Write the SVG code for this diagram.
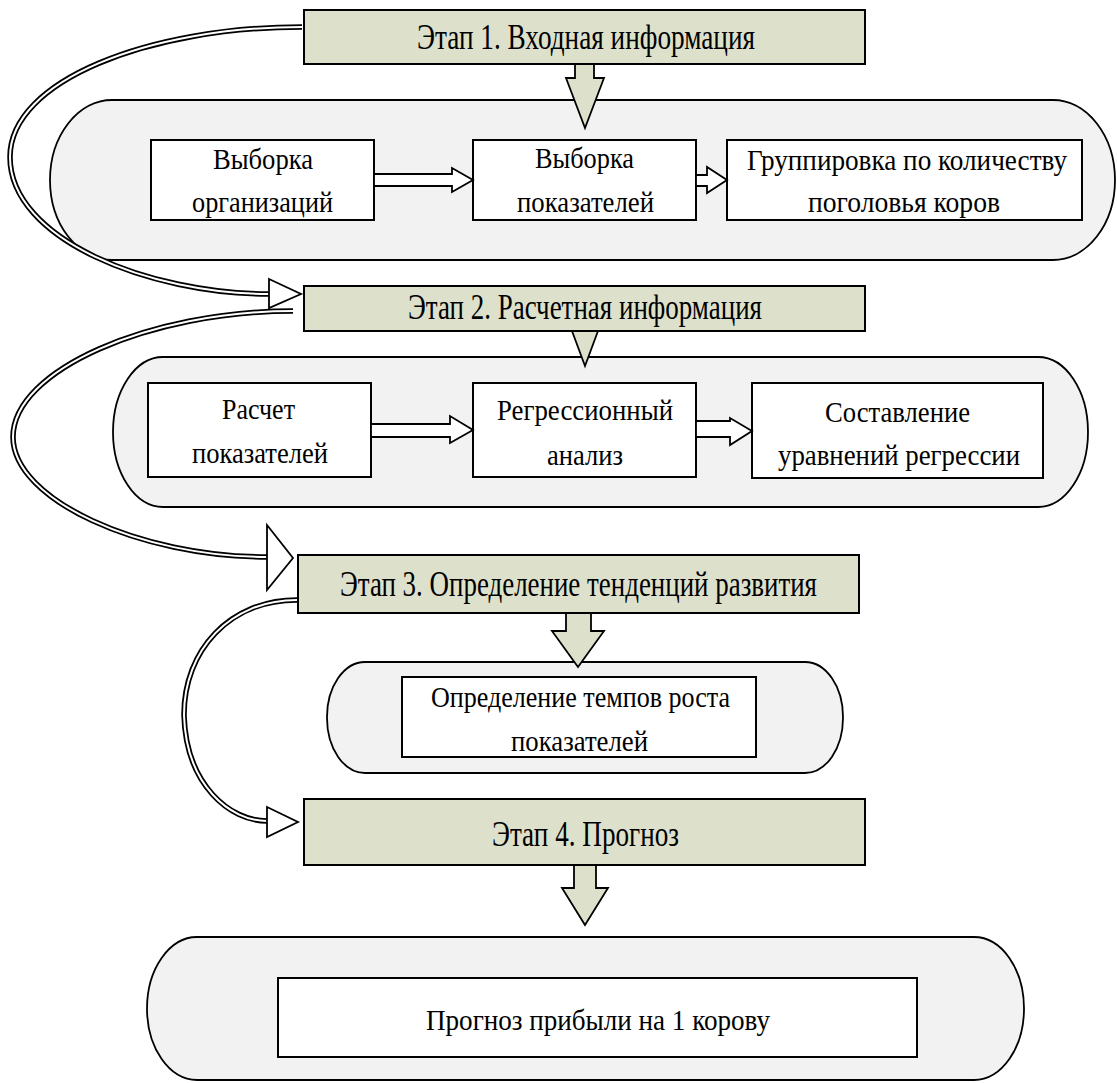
<svg xmlns="http://www.w3.org/2000/svg" width="1117" height="1083" viewBox="0 0 1117 1083" font-family="'Liberation Serif', 'DejaVu Serif', serif">
<style>
.cont{fill:#f2f2f2;stroke:#000;stroke-width:1.8}
.box{fill:#fff;stroke:#000;stroke-width:2}
.stage{fill:#dde1cc;stroke:#000;stroke-width:2}
.harr{fill:#fff;stroke:#000;stroke-width:1.8;stroke-linejoin:miter}
.varr{fill:#dde1cc;stroke:#000;stroke-width:1.8}
.bandO{fill:none;stroke:#000;stroke-width:5.5}
.bandI{fill:none;stroke:#fff;stroke-width:2}
.head{fill:#fff;stroke:#000;stroke-width:1.8}
.st{font-size:35px;font-family:'Liberation Serif', serif}
.tx{font-size:30px;font-family:'Liberation Serif', serif}
</style>
<g id="container1"><rect class="cont" x="50" y="100" width="1065" height="160" rx="62" ry="80"/></g>
<g id="container2"><rect class="cont" x="113" y="357" width="975" height="150" rx="50" ry="75"/></g>
<g id="container3"><rect class="cont" x="327" y="662" width="516" height="111" rx="38" ry="55"/></g>
<g id="container4"><rect class="cont" x="147" y="937" width="877" height="143" rx="50" ry="72"/></g>

<g id="n1a"><rect class="box" x="151" y="140" width="223" height="80"/>
<text class="tx" x="213" y="169" textLength="100" lengthAdjust="spacingAndGlyphs">Выборка</text>
<text class="tx" x="192" y="212" textLength="141" lengthAdjust="spacingAndGlyphs">организаций</text></g>
<g id="n1b"><rect class="box" x="473" y="140" width="223" height="80"/>
<text class="tx" x="535" y="168" textLength="99" lengthAdjust="spacingAndGlyphs">Выборка</text>
<text class="tx" x="517" y="212" textLength="137" lengthAdjust="spacingAndGlyphs">показателей</text></g>
<g id="n1c"><rect class="box" x="727" y="140" width="355" height="80"/>
<text class="tx" x="747" y="170" textLength="320" lengthAdjust="spacingAndGlyphs">Группировка по количеству</text>
<text class="tx" x="808" y="212" textLength="192" lengthAdjust="spacingAndGlyphs">поголовья коров</text></g>

<g id="n2a"><rect class="box" x="148" y="383" width="223" height="94"/>
<text class="tx" x="222" y="419" textLength="73" lengthAdjust="spacingAndGlyphs">Расчет</text>
<text class="tx" x="192" y="463" textLength="136" lengthAdjust="spacingAndGlyphs">показателей</text></g>
<g id="n2b"><rect class="box" x="473" y="383" width="223" height="94"/>
<text class="tx" x="497" y="420" textLength="176" lengthAdjust="spacingAndGlyphs">Регрессионный</text>
<text class="tx" x="547" y="465" textLength="76" lengthAdjust="spacingAndGlyphs">анализ</text></g>
<g id="n2c"><rect class="box" x="752" y="383" width="291" height="95"/>
<text class="tx" x="825" y="422" textLength="145" lengthAdjust="spacingAndGlyphs">Составление</text>
<text class="tx" x="778" y="465" textLength="242" lengthAdjust="spacingAndGlyphs">уравнений регрессии</text></g>

<g id="n3"><rect class="box" x="402" y="677" width="354" height="80"/>
<text class="tx" x="431" y="707" textLength="299" lengthAdjust="spacingAndGlyphs">Определение темпов роста</text>
<text class="tx" x="511" y="751" textLength="137" lengthAdjust="spacingAndGlyphs">показателей</text></g>

<g id="n4"><rect class="box" x="278" y="978" width="639" height="79"/>
<text class="tx" x="426" y="1030" textLength="344" lengthAdjust="spacingAndGlyphs">Прогноз прибыли на 1 корову</text></g>

<g id="connectors">
<polygon class="harr" points="374,174 452,174 452,168 473,180 452,192 452,186 374,186"/>
<polygon class="harr" points="696,175 707,175 707,167 727,180 707,193 707,186 696,186"/>
<polygon class="harr" points="371,424 450,424 450,416 473,430 450,443 450,437 371,437"/>
<polygon class="harr" points="696,421 730,421 730,418 752,431 730,445 730,437 696,437"/>
<polygon class="varr" points="575,60 594,60 594,78 604,78 585,128 566,78 575,78"/>
<polygon class="varr" points="577,318 593,318 593,331 598,331 585,366 572,331 577,331"/>
<polygon class="varr" points="566,609 591,609 591,631 604,631 578,667 552,631 566,631"/>
<polygon class="varr" points="574,861 596,861 596,888 608,888 585,925 562,888 574,888"/>
</g>

<g id="stage1"><rect class="stage" x="304" y="10" width="561" height="54"/>
<text class="st" x="417" y="49" textLength="338" lengthAdjust="spacingAndGlyphs">Этап 1. Входная информация</text></g>
<g id="stage2"><rect class="stage" x="304" y="286" width="561" height="45"/>
<text class="st" x="408" y="319" textLength="354" lengthAdjust="spacingAndGlyphs">Этап 2. Расчетная информация</text></g>
<g id="stage3"><rect class="stage" x="298" y="555" width="561" height="58"/>
<text class="st" x="340" y="596" textLength="477" lengthAdjust="spacingAndGlyphs">Этап 3. Определение тенденций развития</text></g>
<g id="stage4"><rect class="stage" x="304" y="799" width="561" height="66"/>
<text class="st" x="492" y="846" textLength="187" lengthAdjust="spacingAndGlyphs">Этап 4. Прогноз</text></g>

<g id="curves">
<path class="bandO" d="M302,27 C150,27 10,80 10,157 C10,240 150,294 269,294"/>
<path class="bandI" d="M302,27 C150,27 10,80 10,157 C10,240 150,294 269,294"/>
<polygon class="head" points="269,279 301,294 269,308"/>
<path class="bandO" d="M293,311 C150,311 13,370 13,437 C13,500 140,557 267,557"/>
<path class="bandI" d="M293,311 C150,311 13,370 13,437 C13,500 140,557 267,557"/>
<polygon class="head" points="267,525 293,558 267,590"/>
<path class="bandO" d="M297,600 C230,600 184,650 184,715 C186,785 230,821 267,821"/>
<path class="bandI" d="M297,600 C230,600 184,650 184,715 C186,785 230,821 267,821"/>
<polygon class="head" points="267,807 298,822 267,837"/>
</g>
</svg>
